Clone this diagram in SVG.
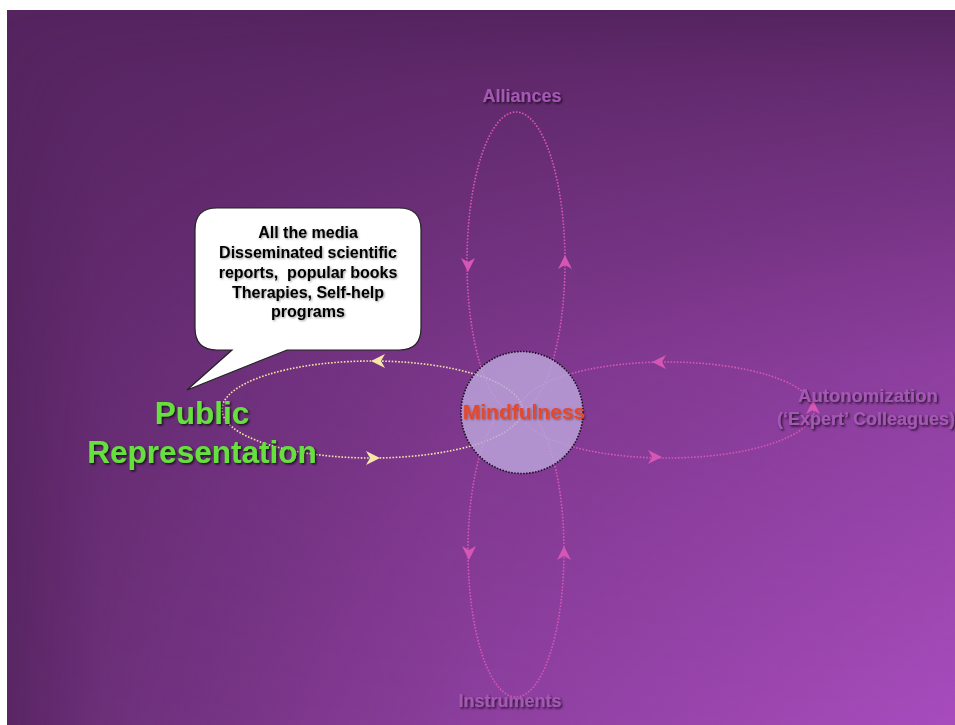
<svg xmlns="http://www.w3.org/2000/svg" width="955" height="725" viewBox="0 0 955 725">
  <defs>
    <linearGradient id="hx" x1="0" y1="0" x2="1" y2="0">
      <stop offset="0" stop-color="#a84cbd" stop-opacity="0.05"/>
      <stop offset="0.1" stop-color="#a84cbd" stop-opacity="0.28"/>
      <stop offset="0.5" stop-color="#a84cbd" stop-opacity="0.68"/>
      <stop offset="1" stop-color="#a84cbd" stop-opacity="1"/>
    </linearGradient>
    <linearGradient id="vy" x1="0" y1="0" x2="0" y2="1">
      <stop offset="0" stop-color="#000"/>
      <stop offset="0.1" stop-color="#333"/>
      <stop offset="0.5" stop-color="#b0b0b0"/>
      <stop offset="1" stop-color="#fff"/>
    </linearGradient>
    <mask id="vm" maskUnits="userSpaceOnUse" x="0" y="0" width="955" height="725">
      <rect x="7" y="10" width="948" height="715" fill="url(#vy)"/>
    </mask>
    <filter id="sh" x="-20%" y="-40%" width="140%" height="180%">
      <feDropShadow dx="1.5" dy="1.5" stdDeviation="1" flood-color="#000" flood-opacity="0.75"/>
    </filter>
    <filter id="shs" x="-20%" y="-40%" width="140%" height="180%">
      <feDropShadow dx="1" dy="1" stdDeviation="1" flood-color="#000" flood-opacity="0.4"/>
    </filter>
    <path id="arr" d="M7,0 L-7,-7 L-3,0 L-7,7 Z"/>
    <style>
      .lbl { font-family: "Liberation Sans", Arial, sans-serif; font-weight: bold; text-anchor: middle; }
      .dim { fill: #a458b4; font-size: 18px; filter: url(#sh); }
      .pk { fill: none; stroke: #d556b5; stroke-width: 1.6; stroke-dasharray: 1.6 1.6; }
      .yl { fill: none; stroke: #f3e3a6; stroke-width: 1.6; stroke-dasharray: 1.6 1.6; }
      .pka { fill: #d556b5; }
      .yla { fill: #f6e6a8; }
    </style>
  </defs>

  <rect x="7" y="10" width="948" height="715" fill="#55245f"/>
  <rect x="7" y="10" width="948" height="715" fill="url(#hx)" mask="url(#vm)"/>

  <g id="connectors">
    <ellipse class="yl" cx="372" cy="409.5" rx="150" ry="48.5"/>
    <ellipse class="pk" cx="667" cy="410" rx="147" ry="48"/>
    <ellipse class="pk" cx="516" cy="262" rx="49" ry="150"/>
    <ellipse class="pk" cx="516" cy="551" rx="48" ry="146"/>
    <use href="#arr" class="yla" transform="translate(378,361) rotate(180)"/>
    <use href="#arr" class="yla" transform="translate(373,458)"/>
    <use href="#arr" class="pka" transform="translate(659,362) rotate(180)"/>
    <use href="#arr" class="pka" transform="translate(655,457)"/>
    <use href="#arr" class="pka" transform="translate(813,407) rotate(-90)"/>
    <use href="#arr" class="pka" transform="translate(468,265) rotate(90)"/>
    <use href="#arr" class="pka" transform="translate(565,262) rotate(-90)"/>
    <use href="#arr" class="pka" transform="translate(469,553) rotate(90)"/>
    <use href="#arr" class="pka" transform="translate(564,553) rotate(-90)"/>
  </g>

  <g id="mindfulness">
    <circle cx="522" cy="412.5" r="61" fill="#bca6dc" fill-opacity="0.82" stroke="#1a1020" stroke-width="1.6" stroke-dasharray="1.5 1.5"/>
    <text class="lbl" x="524" y="419" font-size="21" fill="#e5482c" filter="url(#shs)">Mindfulness</text>
  </g>

  <g id="alliances">
    <text class="lbl dim" x="522" y="102" font-size="17">Alliances</text>
  </g>

  <g id="instruments">
    <text class="lbl dim" x="510" y="707" fill="#9a52aa">Instruments</text>
  </g>

  <g id="autonomization">
    <text class="lbl dim" x="868" y="402" fill="#b070c2" style="font-size:18.5px">Autonomization</text>
    <text class="lbl dim" x="777" y="425" fill="#b070c2" style="font-size:18px;text-anchor:start">(‘Expert’ Colleagues)</text>
  </g>

  <g id="public-representation">
    <text class="lbl" x="202" y="424" font-size="31.5" fill="#66e03e" filter="url(#sh)">Public</text>
    <text class="lbl" x="202" y="463" font-size="31.5" fill="#66e03e" filter="url(#sh)">Representation</text>
  </g>

  <g id="callout">
    <path d="M217,208 H399 Q421,208 421,230 V328 Q421,350 399,350 H287 L187,390 L232,350 H217 Q195,350 195,328 V230 Q195,208 217,208 Z" fill="#ffffff" stroke="#222" stroke-width="1.2"/>
    <g class="lbl" font-size="16" fill="#000" filter="url(#shs)">
      <text x="308" y="238">All the media</text>
      <text x="308" y="258">Disseminated scientific</text>
      <text x="308" y="278" xml:space="preserve">reports,  popular books</text>
      <text x="308" y="298">Therapies, Self-help</text>
      <text x="308" y="317">programs</text>
    </g>
  </g>
</svg>
